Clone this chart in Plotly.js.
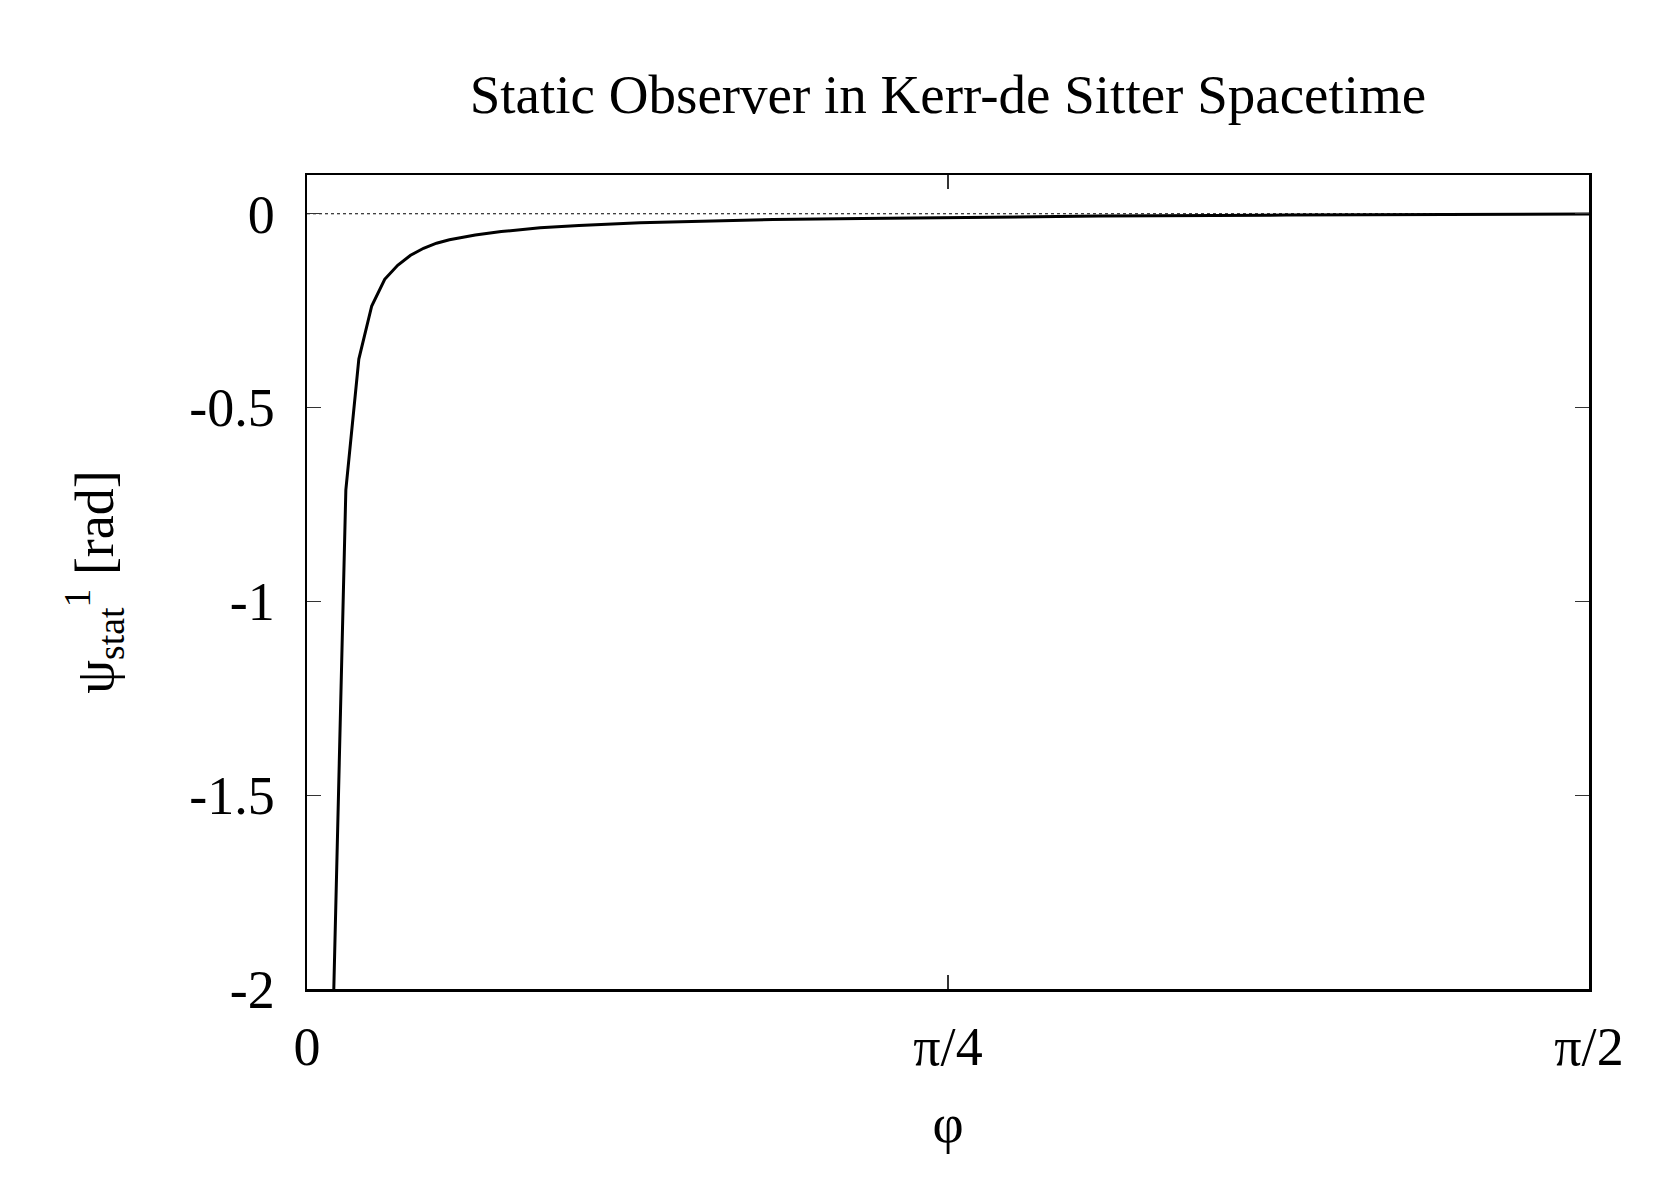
<!DOCTYPE html>
<html>
<head>
<meta charset="utf-8">
<script src="https://cdn.plot.ly/plotly-3.0.1.min.js"></script>
<style>html,body{margin:0;padding:0;background:#fff;}#chart{width:1671px;height:1194px;}</style>
</head>
<body>
<div id="chart"></div>
<script>
// phi [rad] sample positions and psi_stat^1 [rad] values
const phi = [0.0317, 0.0476, 0.0635, 0.0793, 0.0952, 0.1111, 0.1269, 0.1428, 0.1587, 0.1745,
             0.2062, 0.2380, 0.2856, 0.3332, 0.408, 0.48, 0.571, 0.68, 0.776, 0.97, 1.2, 1.4, 1.5708];
const psi = [-2.1, -0.712, -0.375, -0.238, -0.169, -0.133, -0.107, -0.089, -0.076, -0.067,
             -0.055, -0.046, -0.036, -0.030, -0.023, -0.019, -0.015, -0.012, -0.0095, -0.006, -0.0035, -0.0015, -0.0005];
const xTickVals = [0, Math.PI / 4, Math.PI / 2];
const xTickText = ['0', 'π/4', 'π/2'];
const yTickVals = [0, -0.5, -1, -1.5, -2];
const yTickText = ['0', '-0.5', '-1', '-1.5', '-2'];

const FONT = 'Liberation Serif, Times New Roman, serif';

const trace = {
  x: phi, y: psi, type: 'scatter', mode: 'lines',
  line: {color: '#000', width: 3}, showlegend: false, hoverinfo: 'skip'
};

const layout = {
  width: 1671, height: 1194,
  paper_bgcolor: '#fff', plot_bgcolor: '#fff',
  margin: {l: 307, r: 82, t: 175, b: 205},
  font: {family: FONT, size: 54, color: '#000'},
  title: {text: 'Static Observer in Kerr-de Sitter Spacetime', font: {family: FONT, size: 55, color: '#000'},
          x: 0.5, xref: 'paper', xanchor: 'center', y: 1 - 94 / 1194, yref: 'container', yanchor: 'middle'},
  xaxis: {
    range: [0, Math.PI / 2], tickvals: xTickVals, ticktext: xTickText,
    showline: true, linecolor: '#000', linewidth: 2.5, mirror: 'ticks',
    ticks: 'inside', ticklen: 14, tickwidth: 1.2, tickcolor: '#333',
    showgrid: false, zeroline: false, ticklabelstandoff: 9,
    tickfont: {family: FONT, size: 54},
    title: {text: 'φ', font: {family: FONT, size: 54}, standoff: 28}
  },
  yaxis: {
    range: [-2, 0.1], tickvals: yTickVals, ticktext: yTickText,
    showline: true, linecolor: '#000', linewidth: 2.5, mirror: 'ticks',
    ticks: 'inside', ticklen: 14, tickwidth: 1.2, tickcolor: '#333',
    showgrid: false, zeroline: false, ticklabelstandoff: 19,
    tickfont: {family: FONT, size: 54},
    title: {text: 'ψ<sub>stat</sub><sup>1</sup> [rad]', font: {family: FONT, size: 54}, standoff: 59}
  },
  shapes: [{type: 'line', xref: 'paper', x0: 0, x1: 1, yref: 'y', y0: 0, y1: 0,
            line: {color: '#000', width: 1, dash: 'dot'}, layer: 'below'}]
};

Plotly.newPlot('chart', [trace], layout, {displayModeBar: false, staticPlot: true});
</script>
</body>
</html>
